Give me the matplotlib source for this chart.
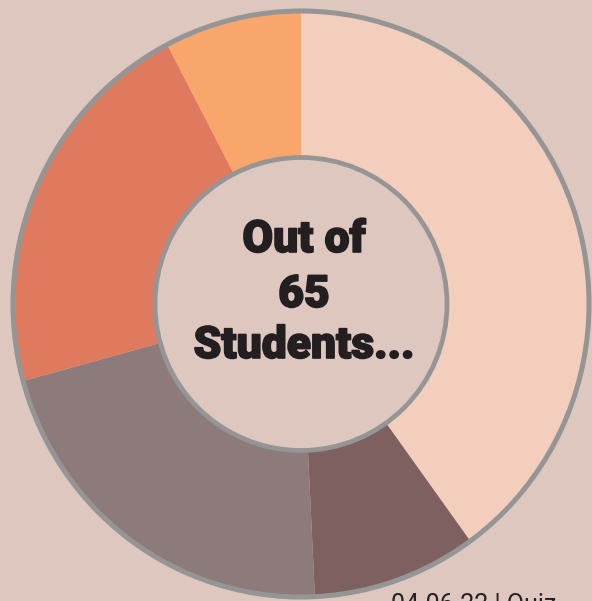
import matplotlib
matplotlib.use("Agg")
import matplotlib.pyplot as plt
import matplotlib.patheffects as pe
from matplotlib.patches import Ellipse

# Data
categories = ["Group A", "Group B", "Group C", "Group D", "Group E"]
values = [26, 6, 14, 14, 5]
colors = ["#F3CEBC", "#7D605F", "#8D7A7A", "#E07A5F", "#F8A66B"]
center_lines = ["Out of", "65", "Students..."]
footer = "04.06.22 | Quiz"

bg = "#DDC7BF"
edge = "#959595"

W, H = 592, 601
fig = plt.figure(figsize=(W / 100, H / 100), dpi=100)
fig.patch.set_facecolor(bg)

cx, cy, rx, ry = 301, 304, 288, 293
ax = fig.add_axes([(cx - rx) / W, (H - cy - ry) / H, 2 * rx / W, 2 * ry / H])
ax.set_facecolor(bg)
ax.pie(values, colors=colors, startangle=90, counterclock=False, radius=1,
       wedgeprops=dict(linewidth=0))
ax.set_aspect("auto")
ax.set_xlim(-1, 1)
ax.set_ylim(-1, 1)
ax.axis("off")

ax.add_patch(Ellipse((0, 0), 2, 2, facecolor="none", edgecolor=edge, lw=3.6, zorder=5,
                     clip_on=False))
ax.add_patch(Ellipse((0, 0), 2 * 0.507, 2 * 0.5, facecolor=bg, edgecolor=edge, lw=3.4,
                     zorder=5))

baselines = [252, 307, 358]
for txt, b in zip(center_lines, baselines):
    fig.text(304 / W, 1 - b / H, txt, ha="center", va="baseline", fontsize=32,
             fontweight="black", family=["Roboto", "DejaVu Sans"], color="#231F20",
             path_effects=[pe.withStroke(linewidth=1.2, foreground="#231F20")])

fig.text(391 / W, 1 - 593 / H, footer, ha="left", va="top", fontsize=18,
         family=["Roboto", "DejaVu Sans"], color="#222222")

fig.savefig("out.png", dpi=100, facecolor=bg)
